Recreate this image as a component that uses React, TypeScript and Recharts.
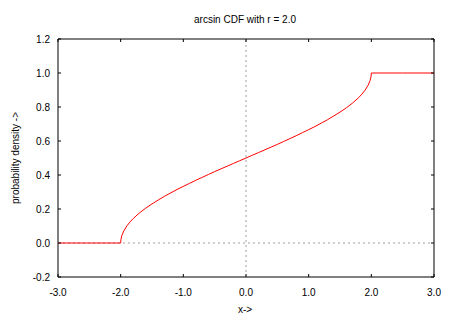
import {
	Customized,
	Line,
	LineChart,
	ReferenceArea,
	ReferenceLine,
	XAxis,
	YAxis,
} from 'recharts';

// values
const xValues = [
	-3.0, -2.5, -2.0, -1.995, -1.98, -1.95, -1.9, -1.85, -1.8, -1.7, -1.6, -1.5,
	-1.4, -1.3, -1.2, -1.1, -1.0, -0.9, -0.8, -0.7, -0.6, -0.5, -0.4, -0.3, -0.2,
	-0.1, 0.0, 0.1, 0.2, 0.3, 0.4, 0.5, 0.6, 0.7, 0.8, 0.9, 1.0, 1.1, 1.2, 1.3,
	1.4, 1.5, 1.6, 1.7, 1.8, 1.85, 1.9, 1.95, 1.98, 1.995, 2.0, 2.5, 3.0,
];
const cdfValues = [
	0, 0, 0, 0.022, 0.045, 0.071, 0.101, 0.124, 0.144, 0.177, 0.205, 0.23,
	0.253, 0.275, 0.295, 0.315, 0.333, 0.351, 0.369, 0.386, 0.403, 0.42, 0.436,
	0.452, 0.468, 0.484, 0.5, 0.516, 0.532, 0.548, 0.564, 0.58, 0.597, 0.614,
	0.631, 0.649, 0.667, 0.685, 0.705, 0.725, 0.747, 0.77, 0.795, 0.823, 0.856,
	0.876, 0.899, 0.929, 0.955, 0.978, 1, 1, 1,
];
const xTicks = [-3, -2, -1, 0, 1, 2, 3];
const yTicks = [-0.2, 0, 0.2, 0.4, 0.6, 0.8, 1.0, 1.2];

const data = xValues.map((x, i) => ({ x, y: cdfValues[i] }));

const W = 450;
const H = 320;
const TOP = 39;
const BOTTOM = 277;
const LEFT = 58;
const RIGHT = 434;
const FONT = '"Liberation Sans", Arial, sans-serif';

const XTick = (props: any) => {
	const { x, payload } = props;
	return (
		<g>
			<line x1={x} y1={BOTTOM} x2={x} y2={BOTTOM - 3} stroke="#000" />
			<line x1={x} y1={TOP} x2={x} y2={TOP + 3} stroke="#000" />
			<text
				x={x}
				y={296}
				textAnchor="middle"
				fontSize={10}
				fontFamily={FONT}
				fill="#000"
			>
				{payload.value.toFixed(1)}
			</text>
		</g>
	);
};

const YTick = (props: any) => {
	const { y, payload } = props;
	return (
		<g>
			<line x1={LEFT} y1={y} x2={LEFT + 3} y2={y} stroke="#000" />
			<line x1={RIGHT} y1={y} x2={RIGHT - 3} y2={y} stroke="#000" />
			<text
				x={50}
				y={y}
				dy="0.35em"
				textAnchor="end"
				fontSize={10}
				fontFamily={FONT}
				fill="#000"
			>
				{payload.value.toFixed(1)}
			</text>
		</g>
	);
};

const Texts = () => (
	<g fontFamily={FONT} fontSize={10} fill="#000">
		<text x={245} y={23} textAnchor="middle">
			arcsin CDF with r = 2.0
		</text>
		<text x={245} y={313} textAnchor="middle">
			x-&gt;
		</text>
		<text
			x={19}
			y={158}
			textAnchor="middle"
			transform="rotate(-90, 19, 158)"
		>
			probability density -&gt;
		</text>
	</g>
);

export default function App() {
	return (
		<div
			style={{
				position: 'absolute',
				left: 0,
				top: 0,
				width: W,
				height: H,
				background: '#fff',
			}}
		>
			<LineChart
				width={W}
				height={H}
				data={data}
				margin={{ top: TOP, right: W - RIGHT, left: 0, bottom: 0 }}
			>
				<XAxis
					dataKey="x"
					type="number"
					domain={[-3, 3]}
					ticks={xTicks}
					tick={<XTick />}
					tickLine={false}
					axisLine={false}
					height={H - BOTTOM}
					interval={0}
				/>
				<YAxis
					type="number"
					domain={[-0.2, 1.2]}
					ticks={yTicks}
					tick={<YTick />}
					tickLine={false}
					axisLine={false}
					width={LEFT}
					interval={0}
				/>
				<ReferenceLine
					x={0}
					stroke="#a0a0a0"
					strokeDasharray="2 3"
				/>
				<ReferenceLine
					y={0}
					stroke="#a0a0a0"
					strokeDasharray="2 3"
				/>
				<Line
					type="linear"
					dataKey="y"
					stroke="#ff0000"
					strokeWidth={1}
					dot={false}
					isAnimationActive={false}
				/>
				<ReferenceArea
					x1={-3}
					x2={3}
					y1={-0.2}
					y2={1.2}
					fill="none"
					stroke="#000"
					strokeWidth={1}
					ifOverflow="visible"
				/>
				<Customized component={Texts} />
			</LineChart>
		</div>
	);
}
